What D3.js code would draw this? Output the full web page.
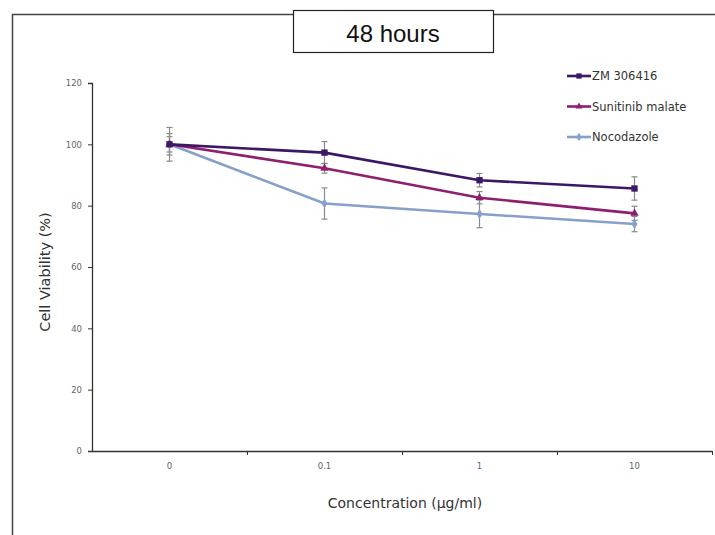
<!DOCTYPE html>
<html>
<head>
<meta charset="utf-8">
<script src="https://cdn.jsdelivr.net/npm/d3@7"></script>
<style>
body { margin: 0; background: #fff; }
text { font-family: "DejaVu Sans", sans-serif; }
</style>
</head>
<body>
<div id="graph"></div>
<script>
// data
var concentrations = ["0", "0.1", "1", "10"];
var seriesNames = ["ZM 306416", "Sunitinib malate", "Nocodazole"];
var zmVals = [100, 97.3, 88.3, 85.6];
var zmErr = [5.5, 3.6, 2.2, 3.8];
var suniVals = [100, 92.2, 82.6, 77.5];
var suniErr = [2.5, 1.6, 2.0, 2.3];
var nocoVals = [100, 80.7, 77.3, 74.0];
var nocoErr = [3.5, 5.1, 4.5, 2.5];
var yTicks = [0, 20, 40, 60, 80, 100, 120];

var W = 715, H = 535;
var margin = {top: 83, right: 3, bottom: 84, left: 92};
var width = W - margin.left - margin.right,
    height = H - margin.top - margin.bottom;

var svg = d3.select('#graph').append('svg')
    .attr('width', W).attr('height', H);

// outer frame
svg.append('path')
    .attr('d', 'M12.5,' + H + 'V14.5H' + W)
    .attr('fill', 'none').attr('stroke', '#444').attr('stroke-width', 1.5);

// title box
svg.append('rect').attr('x', 293.5).attr('y', 10.5).attr('width', 200).attr('height', 42)
    .attr('fill', '#fff').attr('stroke', '#222').attr('stroke-width', 1.2);
svg.append('text').attr('x', 393).attr('y', 42).attr('text-anchor', 'middle')
    .style('font-family', '"Liberation Sans", Arial, sans-serif')
    .attr('font-size', 24).attr('fill', '#111').text('48 hours');

var g = svg.append('g').attr('transform', 'translate(' + margin.left + ',' + margin.top + ')');

var x = d3.scaleBand().domain(concentrations).range([0, width]).padding(0);
var y = d3.scaleLinear().domain([0, 120]).range([height, 0]);

// y axis
var yAxis = g.append('g').call(d3.axisLeft(y).tickValues(yTicks).tickSize(4).tickPadding(6));
yAxis.select('.domain').attr('stroke', '#333').attr('stroke-width', 1.3);
yAxis.selectAll('.tick line').attr('stroke', '#333');
yAxis.selectAll('.tick text').attr('font-size', 8.5).attr('fill', '#666');

// x axis: labels centered in bands, ticks at band boundaries
var xAxis = g.append('g').attr('transform', 'translate(0,' + height + ')')
    .call(d3.axisBottom(x).tickSize(0).tickPadding(12));
xAxis.select('.domain').attr('stroke', '#333').attr('stroke-width', 1.3);
xAxis.selectAll('.tick text').attr('font-size', 8.5).attr('fill', '#666');
var bounds = d3.scaleLinear().domain([0, concentrations.length]).range([0, width]);
g.append('g').attr('transform', 'translate(0,' + height + ')')
    .call(d3.axisBottom(bounds).tickValues(d3.range(1, concentrations.length + 1)).tickSize(4).tickFormat(''))
    .call(function(s) { s.select('.domain').remove(); s.selectAll('line').attr('stroke', '#333'); });

// axis titles
svg.append('text').attr('x', 405).attr('y', 508).attr('text-anchor', 'middle')
    .attr('font-size', 14).attr('fill', '#333').text('Concentration (\u00b5g/ml)');
svg.append('text').attr('transform', 'translate(50,272) rotate(-90)').attr('text-anchor', 'middle')
    .attr('font-size', 14.5).attr('fill', '#333').text('Cell Viability (%)');

var series = [
  {name: seriesNames[0], vals: zmVals, err: zmErr, color: '#3b1766', shape: d3.symbolSquare, size: 40},
  {name: seriesNames[1], vals: suniVals, err: suniErr, color: '#8e1f6e', shape: d3.symbolTriangle, size: 30},
  {name: seriesNames[2], vals: nocoVals, err: nocoErr, color: '#86a0cc', shape: d3.symbolDiamond, size: 30}
];

var cx = function(i) { return x(concentrations[i]) + x.bandwidth() / 2; };
var line = d3.line().x(function(d, i) { return cx(i); }).y(function(d) { return y(d); });

// error bars
series.forEach(function(s) {
  var eb = g.append('g').attr('stroke', '#8a8a8a').attr('stroke-width', 1.2);
  s.vals.forEach(function(v, i) {
    eb.append('line').attr('x1', cx(i)).attr('x2', cx(i)).attr('y1', y(v + s.err[i])).attr('y2', y(v - s.err[i]));
    [v + s.err[i], v - s.err[i]].forEach(function(e) {
      eb.append('line').attr('x1', cx(i) - 3).attr('x2', cx(i) + 3).attr('y1', y(e)).attr('y2', y(e));
    });
  });
});

// lines and markers (draw light series first)
series.slice().reverse().forEach(function(s) {
  g.append('path').datum(s.vals).attr('d', line)
      .attr('fill', 'none').attr('stroke', s.color).attr('stroke-width', 2.6);
  g.selectAll(null).data(s.vals).enter().append('path')
      .attr('d', d3.symbol().type(s.shape).size(s.size))
      .attr('transform', function(d, i) { return 'translate(' + cx(i) + ',' + y(d) + ')'; })
      .attr('fill', s.color);
});

// legend
var lg = svg.append('g').attr('transform', 'translate(567,76)');
series.forEach(function(s, i) {
  var r = lg.append('g').attr('transform', 'translate(0,' + (i * 30.5) + ')');
  r.append('line').attr('x1', 0).attr('x2', 24).attr('stroke', s.color).attr('stroke-width', 2.6);
  r.append('path').attr('d', d3.symbol().type(s.shape).size(s.size * 0.7)).attr('transform', 'translate(12,0)').attr('fill', s.color);
  r.append('text').attr('x', 25).attr('y', 4).attr('font-size', 11.5).attr('fill', '#333').text(s.name);
});
</script>
</body>
</html>
